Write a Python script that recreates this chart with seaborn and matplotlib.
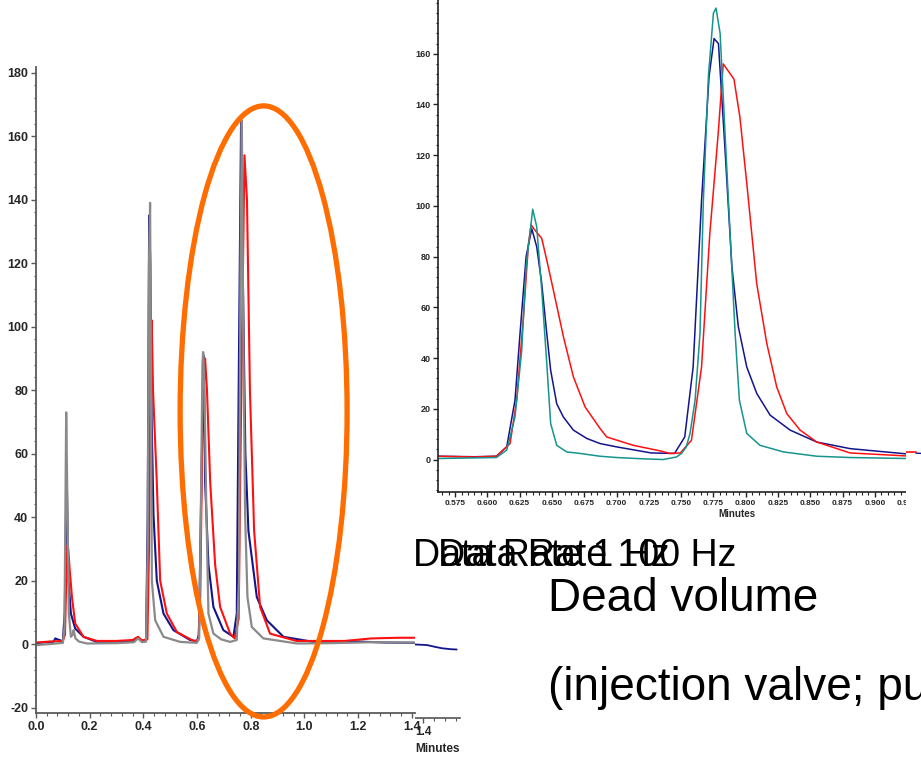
import numpy as np
import matplotlib
matplotlib.use("Agg")
import matplotlib.pyplot as plt
import seaborn as sns
from matplotlib.patches import Ellipse, Rectangle
from matplotlib.ticker import MultipleLocator

# ---- main chromatogram (left panel), minutes vs signal ----
gray_t = [0.000, 0.050, 0.100, 0.106, 0.1125, 0.1175, 0.1225, 0.130, 0.137, 0.140, 0.147, 0.160, 0.190,
          0.300, 0.365, 0.380, 0.395, 0.410, 0.416, 0.421, 0.425, 0.428, 0.4316, 0.444, 0.475, 0.537,
          0.599, 0.608, 0.614, 0.620, 0.6227, 0.628, 0.634, 0.6425, 0.661, 0.690, 0.7233, 0.748, 0.756,
          0.762, 0.7668, 0.771, 0.779, 0.7878, 0.804, 0.847, 0.9716, 1.100, 1.250, 1.410]
gray_y = [-0.3, 0.0, 0.4, 5, 73, 40.8, 9.6, 2.3, 3.0, 4.4, 1.8, 0.8, 0.2,
          0.3, 0.6, 1.8, 0.6, 0.8, 30, 120, 139, 90, 20, 7.5, 2.3, 0.7,
          0.4, 2, 40, 88, 92, 80, 45, 9.6, 3.3, 1.5, 0.7, 1.3, 20,
          120, 165, 110, 40.8, 14.8, 5.4, 1.8, 0.2, 0.3, 0.6, 0.5]

blue_t = [0.000, 0.050, 0.065, 0.072, 0.080, 0.100, 0.107, 0.114, 0.118, 0.121, 0.130, 0.146, 0.177,
          0.227, 0.300, 0.360, 0.380, 0.395, 0.410, 0.416, 0.4216, 0.426, 0.431, 0.4377, 0.450, 0.475,
          0.512, 0.574, 0.600, 0.607, 0.615, 0.6246, 0.630, 0.6425, 0.661, 0.698, 0.7356, 0.748, 0.755,
          0.764, 0.770, 0.780, 0.7915, 0.8227, 0.860, 0.922, 1.0335, 1.200, 1.300, 1.410]
blue_y = [0.3, 0.7, 0.7, 1.8, 1.5, 0.9, 10, 55, 35, 20, 9.6, 4.9, 2.3,
          0.7, 0.6, 1.0, 2.0, 1.0, 1.2, 40, 135, 120, 70, 40.8, 20, 9.6,
          4.4, 1.3, 0.9, 3, 45, 91, 51, 25, 11.7, 4.4, 2.3, 9.6, 80,
          165, 120, 60, 35.6, 14.8, 7.5, 2.3, 0.7, 0.8, 0.5, 0.4]

red_t = [0.000, 0.050, 0.100, 0.108, 0.114, 0.117, 0.120, 0.125, 0.134, 0.146, 0.177, 0.227, 0.300,
         0.360, 0.380, 0.395, 0.415, 0.421, 0.427, 0.431, 0.436, 0.450, 0.4626, 0.4875, 0.525, 0.587,
         0.605, 0.612, 0.620, 0.630, 0.637, 0.649, 0.6674, 0.686, 0.7233, 0.740, 0.755, 0.762, 0.7766,
         0.786, 0.797, 0.8127, 0.835, 0.872, 0.970, 1.150, 1.250, 1.350, 1.410]
red_y = [0.5, 0.8, 1.0, 3, 25, 31, 30, 24, 14.8, 6.5, 2.3, 1.0, 1.0,
         1.3, 2.3, 1.2, 1.5, 30, 90, 102, 80, 51, 20, 9.6, 3.8, 1.0,
         1.2, 15, 70, 90, 80, 51, 25, 11.7, 3.3, 1.8, 8, 60, 154,
         140, 80, 35.6, 11.7, 3.3, 1.0, 1.0, 1.8, 2.0, 2.0]

# tail of the chart lying behind the left panel
back_blue_t = [1.30, 1.364, 1.414, 1.440, 1.468, 1.500, 1.522]
back_blue_y = [0.5, -0.1, -0.3, -0.8, -1.3, -1.6, -1.7]

# ---- zoomed panel (top right) ----
teal_t = [0.562, 0.607, 0.615, 0.6214, 0.6266, 0.630, 0.6351, 0.6382, 0.6421, 0.646, 0.649, 0.6537,
          0.6614, 0.6718, 0.6872, 0.700, 0.720, 0.736, 0.7464, 0.7503, 0.754, 0.7569, 0.7608, 0.7646,
          0.7672, 0.7711, 0.7750, 0.7770, 0.7802, 0.784, 0.7879, 0.7918, 0.7951, 0.8008, 0.8111,
          0.8292, 0.855, 0.8807, 0.925]
teal_y = [0.4, 0.8, 3.7, 16.8, 43, 76, 98.7, 91.8, 66.8, 37.9, 14.2, 5.6,
          3.0, 2.4, 1.3, 0.8, 0.3, 0.0, 1.0, 2.4, 5, 10.3, 23.4, 49.7,
          102, 151, 176, 178, 168, 128.6, 89, 49.7, 23.4, 10.3, 5.6,
          3.0, 1.3, 0.8, 0.4]

navy_t = [0.562, 0.590, 0.607, 0.615, 0.6214, 0.6253, 0.630, 0.6344, 0.6382, 0.6421, 0.646, 0.649,
          0.6537, 0.6588, 0.6666, 0.677, 0.6873, 0.700, 0.7268, 0.7449, 0.7528, 0.7593, 0.7658,
          0.7716, 0.7755, 0.7789, 0.784, 0.7893, 0.7943, 0.8008, 0.8086, 0.8189, 0.8344, 0.855,
          0.8808, 0.925]
navy_y = [1.3, 1.1, 1.3, 5, 23.4, 49.7, 80, 91, 83.9, 69.4, 49.7, 35.2,
          22, 16.8, 11.6, 8.3, 6.3, 5.0, 2.6, 2.4, 8.9, 36.5, 102,
          151, 166, 164, 122, 76, 52.3, 36.5, 26, 17.5, 11.6, 6.9,
          4.3, 2.2]

redz_t = [0.562, 0.590, 0.607, 0.6176, 0.6227, 0.6279, 0.6318, 0.6339, 0.6369, 0.6421, 0.646, 0.6511,
          0.6589, 0.6666, 0.6757, 0.6873, 0.6924, 0.713, 0.7339, 0.7412, 0.7494, 0.758, 0.7658,
          0.7722, 0.7787, 0.7826, 0.7909, 0.7955, 0.8008, 0.8085, 0.8163, 0.824, 0.8318, 0.8421,
          0.855, 0.8808, 0.925]
redz_y = [1.3, 1.0, 1.3, 6.3, 23.4, 56, 85, 92.5, 90.4, 87.2, 78.6, 66.8,
          48.4, 32.6, 20.7, 12.2, 8.9, 5.6, 3.4, 2.4, 2.6, 7.6, 36.5,
          89, 128.6, 156, 150, 135, 109, 69.4, 45.8, 28.6, 18.1, 11.6,
          6.9, 2.6, 1.4]

# fragment of the next panel at the right edge
frag_red_t = [0.0, 0.1]
frag_red_y = [2.9, 2.9]
frag_blue_t = [0.1, 0.3]
frag_blue_y = [2.5, 2.2]

main_xticks = [0.0, 0.2, 0.4, 0.6, 0.8, 1.0, 1.2, 1.4]
main_yticks = [-20, 0, 20, 40, 60, 80, 100, 120, 140, 160, 180]
zoom_xticks = [0.575, 0.600, 0.625, 0.650, 0.675, 0.700, 0.725, 0.750, 0.775, 0.800, 0.825,
               0.850, 0.875, 0.900, 0.925]
zoom_yticks = [0, 20, 40, 60, 80, 100, 120, 140, 160]

GRAY = "#8a8a8a"
NAVY = "#14148c"
RED = "#ff1010"
TEAL = "#16948e"
ORANGE = "#ff6d00"

sns.set_theme(style="white")
plt.rcParams["font.family"] = ["Liberation Sans", "DejaVu Sans"]

W, H = 921, 760
fig = plt.figure(figsize=(9.21, 7.6), dpi=100)
fig.patch.set_facecolor("white")


def box(x0, y0, x1, y1):
    # pixel box (top-left origin) -> figure fraction rect
    return [x0 / W, 1 - y1 / H, (x1 - x0) / W, (y1 - y0) / H]


def style(ax, fs, minor_x, minor_y, lw=1.2, color="#555555"):
    for s in ["top", "right"]:
        ax.spines[s].set_visible(False)
    for s in ["left", "bottom"]:
        ax.spines[s].set_color(color)
        ax.spines[s].set_linewidth(lw)
    ax.xaxis.set_minor_locator(MultipleLocator(minor_x))
    if minor_y:
        ax.yaxis.set_minor_locator(MultipleLocator(minor_y))
    ax.tick_params(which="major", direction="out", length=3.5, width=1, color=color,
                   labelsize=fs, pad=2, bottom=True, left=True)
    ax.tick_params(which="minor", direction="out", length=1.8, width=0.8, color=color,
                   bottom=True, left=True)
    ax.set_xlabel("")
    ax.set_ylabel("")


# back chart (mostly hidden)
ax_b = fig.add_axes(box(36, 67, 460, 718), zorder=0)
ax_b.set_facecolor("white")
sns.lineplot(x=back_blue_t, y=back_blue_y, ax=ax_b, color=NAVY, linewidth=1.3, sort=False, estimator=None)
ax_b.set_xlim(0, (460 - 36) / 276.4)
ax_b.set_ylim(-23.1, 180.3)
style(ax_b, 8.5, 0.04, None)
ax_b.spines["left"].set_visible(False)
ax_b.set_yticks([])
ax_b.set_xticks([1.4])
ax_b.set_xticklabels(["1.4"], fontweight="bold", fontsize=8.5)
ax_b.set_xlabel("Minutes", loc="right", fontweight="bold", fontsize=8.5, labelpad=4)

# white backing of the front chart
fig.add_artist(Rectangle((0, 1 - 742 / H), 415 / W, 742 / H, transform=fig.transFigure,
                         facecolor="white", edgecolor="none", zorder=0.5))

# front chart
ax_f = fig.add_axes(box(36, 67, 415, 713), zorder=1)
ax_f.set_facecolor("none")
sns.lineplot(x=blue_t, y=blue_y, ax=ax_f, color=NAVY, linewidth=1.5, sort=False, estimator=None)
sns.lineplot(x=red_t, y=red_y, ax=ax_f, color=RED, linewidth=1.5, sort=False, estimator=None)
sns.lineplot(x=gray_t, y=gray_y, ax=ax_f, color=GRAY, linewidth=1.6, sort=False, estimator=None)
ax_f.set_xlim(0, 1.412)
ax_f.set_ylim(-21.7, 181.8)
style(ax_f, 9, 0.04, 4, lw=1.3, color="#5a5a5a")
ax_f.set_xticks(main_xticks)
ax_f.set_xticklabels([f"{v:.1f}" for v in main_xticks], fontweight="bold", fontsize=9)
ax_f.set_yticks(main_yticks)
ax_f.set_yticklabels([str(v) for v in main_yticks], fontweight="bold", fontsize=9)
ax_f.add_patch(Ellipse((0.848, 73.3), 0.622, 192.5, fill=False, edgecolor=ORANGE,
                       linewidth=3.8, clip_on=False, zorder=6))

# zoomed chart
ax_i = fig.add_axes(box(438, 0, 1036, 492), zorder=2)
ax_i.set_facecolor("white")
sns.lineplot(x=navy_t, y=navy_y, ax=ax_i, color=NAVY, linewidth=1.1, sort=False, estimator=None)
sns.lineplot(x=redz_t, y=redz_y, ax=ax_i, color=RED, linewidth=1.1, sort=False, estimator=None)
sns.lineplot(x=teal_t, y=teal_y, ax=ax_i, color=TEAL, linewidth=1.1, sort=False, estimator=None)
ax_i.set_xlim(0.5618, 1.0247)
ax_i.set_ylim(-12.8, 181.2)
style(ax_i, 6, 0.005, 4, lw=1.2, color="#222222")
ax_i.set_xticks(zoom_xticks)
ax_i.set_xticklabels([f"{v:.3f}" for v in zoom_xticks], fontweight="bold", fontsize=6)
ax_i.set_yticks(zoom_yticks)
ax_i.set_yticklabels([str(v) for v in zoom_yticks], fontweight="bold", fontsize=6.5)
ax_i.set_xlabel("Minutes", fontweight="bold", fontsize=7, labelpad=2)

# next panel covering the zoom chart on the right
fig.add_artist(Rectangle((906 / W, 1 - 525 / H), 15 / W, 525 / H, transform=fig.transFigure,
                         facecolor="white", edgecolor="none", zorder=2.5))
ax_r = fig.add_axes(box(906, 0, 1006, 492), zorder=3)
ax_r.set_facecolor("none")
sns.lineplot(x=frag_red_t, y=frag_red_y, ax=ax_r, color=RED, linewidth=1.2, sort=False, estimator=None)
sns.lineplot(x=frag_blue_t, y=frag_blue_y, ax=ax_r, color=NAVY, linewidth=1.0, sort=False, estimator=None)
ax_r.set_xlim(0, 1)
ax_r.set_ylim(-12.8, 181.2)
ax_r.axis("off")

# slide texts
fig.text(413 / W, 1 - 566 / H, "Data Rate 1 Hz", fontsize=27, va="baseline", color="black", zorder=10)
fig.text(438 / W, 1 - 566 / H, "Data Rate 100 Hz", fontsize=27, va="baseline", color="black", zorder=10)
fig.text(548 / W, 1 - 611 / H, "Dead volume", fontsize=33, va="baseline", color="black", zorder=10)
fig.text(548 / W, 1 - 700 / H, "(injection valve; pump)", fontsize=33, va="baseline", color="black", zorder=10)

fig.savefig("out.png", dpi=100, facecolor="white")
